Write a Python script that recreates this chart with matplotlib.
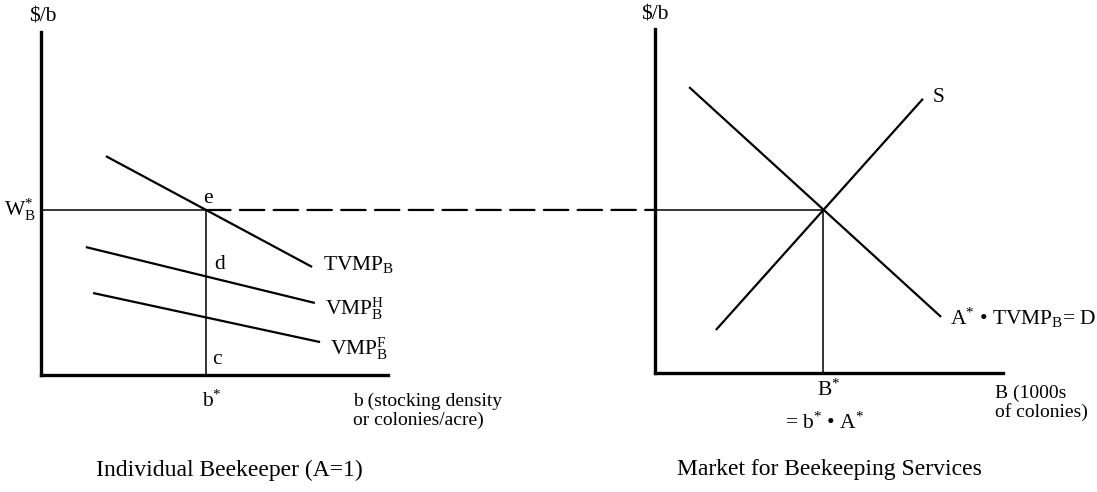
import matplotlib
matplotlib.use("Agg")
import matplotlib.pyplot as plt
from matplotlib.patches import ConnectionPatch

plt.rcParams['font.family'] = ['Liberation Serif', 'DejaVu Serif']
plt.rcParams['mathtext.fontset'] = 'custom'
plt.rcParams['mathtext.rm'] = 'Liberation Serif'
plt.rcParams['mathtext.it'] = 'Liberation Serif:italic'
plt.rcParams['mathtext.bf'] = 'Liberation Serif:bold'

# ---- data (panel units 0..10) ----
# Left panel: individual beekeeper
tvmp_x = [1.86, 7.81]
tvmp_y = [6.38, 3.15]
vmp_h_x = [1.28, 7.89]
vmp_h_y = [3.73, 2.10]
vmp_f_x = [1.49, 8.04]
vmp_f_y = [2.39, 0.96]
b_star = 4.75
w_star_left = 4.81

# Right panel: market
demand_x = [0.98, 8.22]
demand_y = [8.31, 1.63]
supply_x = [1.75, 7.70]
supply_y = [1.25, 7.97]
B_star = 4.83
w_star_right = 4.74

FS = 15.5
FS_CAP = 17
FS_AX = 14
fig = plt.figure(figsize=(10.97, 4.92), dpi=100)
axL = fig.add_axes([0.0378, 0.2378, 0.3159, 0.6972])
axR = fig.add_axes([0.5971, 0.2419, 0.3172, 0.6992])

for ax in (axL, axR):
    ax.set_xlim(0, 10)
    ax.set_ylim(0, 10)
    for s in ('top', 'right'):
        ax.spines[s].set_visible(False)
    for s in ('left', 'bottom'):
        ax.spines[s].set_linewidth(2.4)
        ax.spines[s].set_color('black')
    ax.set_xticks([])
    ax.set_yticks([])
    ax.patch.set_alpha(0)

# Left curves
axL.plot(tvmp_x, tvmp_y, color='black', lw=1.6, solid_capstyle='butt')
axL.plot(vmp_h_x, vmp_h_y, color='black', lw=1.6, solid_capstyle='butt')
axL.plot(vmp_f_x, vmp_f_y, color='black', lw=1.6, solid_capstyle='butt')
axL.plot([0, b_star], [w_star_left, w_star_left], color='black', lw=1.1)
axL.plot([b_star, b_star], [0, w_star_left], color='black', lw=1.1)

# Dashed connector from e to right axis
con = ConnectionPatch(xyA=(b_star, w_star_left), coordsA=axL.transData,
                      xyB=(0, w_star_right), coordsB=axR.transData,
                      color='black', lw=1.6, linestyle=(0, (11, 4.2)))
fig.add_artist(con)

# Right curves
axR.plot(demand_x, demand_y, color='black', lw=1.6, solid_capstyle='butt')
axR.plot(supply_x, supply_y, color='black', lw=1.6, solid_capstyle='butt')
axR.plot([0, B_star], [w_star_right, w_star_right], color='black', lw=1.1)
axR.plot([B_star, B_star], [0, w_star_right], color='black', lw=1.1)

kw = dict(fontsize=FS, clip_on=False)
# Left labels
axL.text(0.04, 10.44, '$/b', ha='center', va='center', **kw)
axL.text(-0.15, w_star_left, r'W$^{*}_{\mathrm{B}}$', ha='right', va='center', **kw)
axL.text(4.8, 5.15, 'e', ha='center', va='center', **kw)
axL.text(5.15, 3.21, 'd', ha='center', va='center', **kw)
axL.text(5.07, 0.44, 'c', ha='center', va='center', **kw)
axL.text(8.12, 3.21, r'TVMP$_{\mathrm{B}}$', ha='left', va='center', **kw)
axL.text(8.18, 1.92, r'VMP$^{\mathrm{H}}_{\mathrm{B}}$', ha='left', va='center', **kw)
axL.text(8.33, 0.78, r'VMP$^{\mathrm{F}}_{\mathrm{B}}$', ha='left', va='center', **kw)
axL.text(4.92, -0.75, r'b$^{*}$', ha='center', va='center', **kw)
axL.text(8.99, -1.05, 'b (stocking density\nor colonies/acre)', ha='left', va='center',
         fontsize=FS_AX, linespacing=1.1, clip_on=False)
axL.text(5.41, -2.77, 'Individual Beekeeper (A=1)', ha='center', va='center',
         fontsize=FS_CAP, clip_on=False)

# Right labels
axR.text(0.0, 10.41, '$/b', ha='center', va='center', **kw)
axR.text(7.98, 8.0, 'S', ha='left', va='center', **kw)
axR.text(8.48, 1.6, r'A$^{*}$ • TVMP$_{\mathrm{B}}$= D', ha='left', va='center', **kw)
axR.text(5.0, -0.49, r'B$^{*}$', ha='center', va='center', **kw)
axR.text(4.86, -1.45, r'= b$^{*}$ • A$^{*}$', ha='center', va='center', **kw)
axR.text(9.77, -0.87, 'B (1000s\nof colonies)', ha='left', va='center',
         fontsize=FS_AX, linespacing=1.1, clip_on=False)
axR.text(5.0, -2.82, 'Market for Beekeeping Services', ha='center', va='center',
         fontsize=FS_CAP, clip_on=False)

fig.savefig('out.png', dpi=100)
